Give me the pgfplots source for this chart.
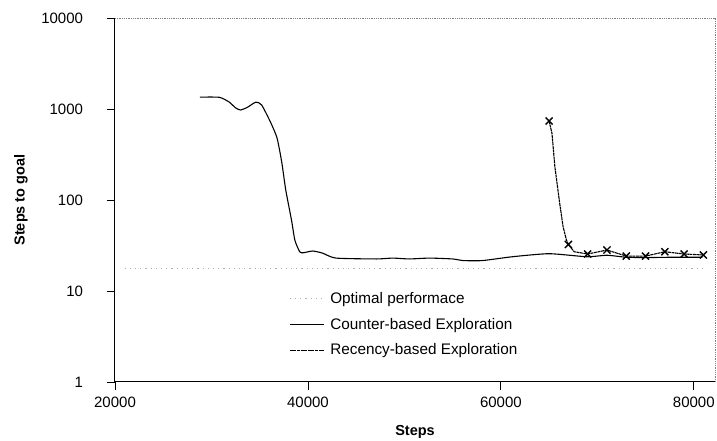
\documentclass[border=0pt]{standalone}
\usepackage{fontspec}
\setmainfont{Liberation Sans}
\usepackage{pgfplots}
\pgfplotsset{compat=1.18}
\begin{document}
\fontsize{14.5}{17}\selectfont
\begin{tikzpicture}
\path[use as bounding box] (-115pt,-59pt) rectangle (602pt,382pt);
\begin{axis}[
  scale only axis, width=600pt, height=364pt,
  at={(0,0)}, anchor=south west,
  ymode=log, ymin=1, ymax=10000, xmin=20000, xmax=82200,
  axis x line*=bottom, axis y line*=left,
  axis line style={black, line width=1pt, -},
  tick align=outside, major tick length=8pt,
  tick style={black, line width=0.8pt},
  ytick={1,10,100,1000,10000}, yticklabels={1,10,100,1000,10000},
  yminorticks=false,
  xtick={20000,40000,60000,80000}, xticklabels={20000,40000,60000,80000},
  scaled x ticks=false,
  /pgf/number format/assume math mode=true,
  tick label style={font=\fontsize{15}{17}\selectfont},
  yticklabel style={xshift=-19pt},
  xticklabel style={yshift=-2pt},
  xlabel={\bfseries Steps}, ylabel={\bfseries Steps to goal},
  every axis x label/.style={at={(axis description cs:0.5,0)}, anchor=center, yshift=-50pt},
  every axis y label/.style={at={(axis description cs:0,0.5)}, anchor=center, xshift=-94pt, rotate=90},
  legend style={draw=none, fill=none, at={(rel axis cs:0.285,0.258)}, anchor=north west,
    font=\fontsize{15.3}{18}\selectfont, row sep=8.5pt, column sep=4pt, legend cell align=left},
  legend image code/.code={\draw[#1] (0pt,0pt) -- (34pt,0pt);},
  clip=false,
]
\draw[gray, densely dotted, line width=0.8pt] (rel axis cs:0,1) -- (rel axis cs:1,1) -- (rel axis cs:1,0);
\addplot[gray!65, line width=0.9pt, dash pattern=on 1.2pt off 4pt] coordinates {(21000,17.5) (81000,17.5)};
\addlegendentry{Optimal performace}
\addplot[black, line width=1.1pt, smooth, tension=0.35] coordinates {
(28800,1350) (30800,1345) (31800,1200) (32500,1030) (33000,975) (33700,1040) (34600,1190) (35200,1107) (36100,725)
(36800,480) (37300,255) (37700,129) (38300,60) (38650,36) (39150,27)
(39500,26.3) (40500,27.5) (41500,26.1) (42900,23) (47100,22.5) (48800,23)
(50500,22.5) (52600,23) (55000,22.5) (56100,21.6) (58100,21.6) (61200,23.8)
(65000,25.7) (68900,23.8) (71000,24.7) (73000,23.5) (75100,23.3) (77800,23.5) (80900,23.5)};
\addlegendentry{Counter-based Exploration}
\addplot[black, line width=1.1pt, dash pattern=on 3pt off 0.6pt, mark=x, mark size=5pt,
  mark options={solid, line width=1.4pt},
  mark indices={1,7,9,10,11,12,13,14,15}] coordinates {
(65000,738) (65300,541) (65600,232) (66100,92) (66450,51) (66800,36.3)
(67000,32.5) (67600,27) (69000,25.5) (71000,28.2) (73000,24.2) (75000,24.2)
(77000,27.0) (79000,25.5) (81000,24.9)};
\addlegendentry{Recency-based Exploration}
\end{axis}
\end{tikzpicture}
\end{document}
